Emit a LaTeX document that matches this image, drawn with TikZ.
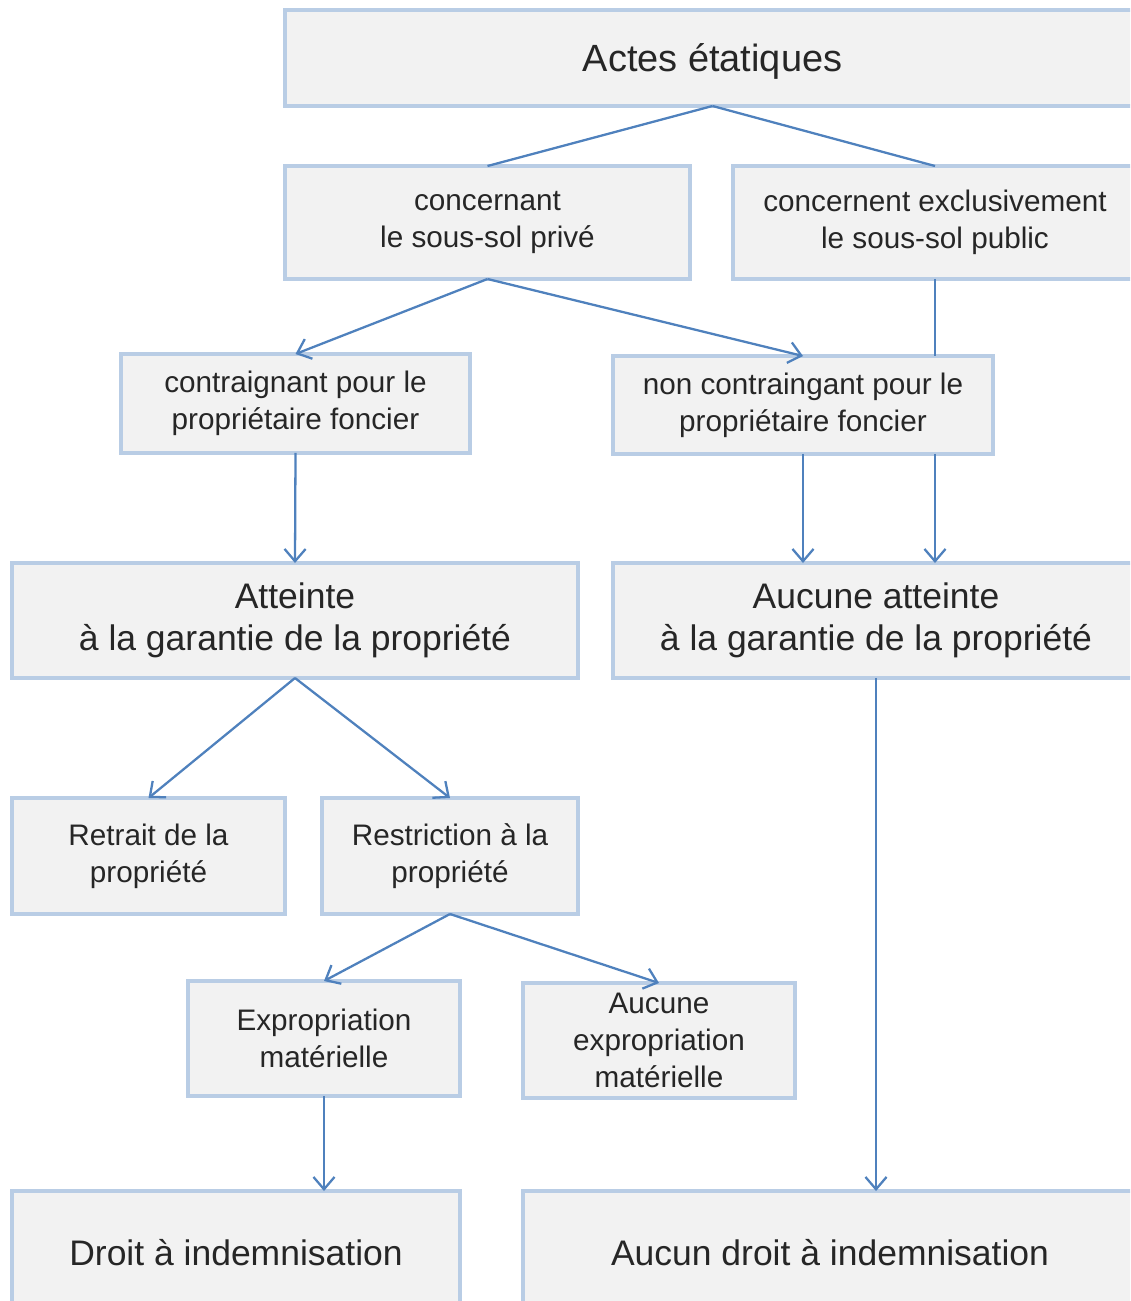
\documentclass[tikz,border=0pt]{standalone}
\usepackage{fontspec}
\setmainfont{Liberation Sans}
\usetikzlibrary{arrows.meta,positioning}

\definecolor{boxfill}{HTML}{F2F2F2}
\definecolor{boxline}{HTML}{B9CDE5}
\definecolor{link}{HTML}{4F81BD}
\definecolor{ink}{HTML}{262626}

\begin{document}
\begin{tikzpicture}[
	x = 0.02cm, y = -0.02cm, % one unit = one pixel of the layout
	> = {Straight Barb[length=7pt, width=12pt]}, % open arrow head
	line width = 1.3pt,
	draw = link,
	S/.style={rectangle, draw=boxline, fill=boxfill, line width=2.3pt, align=center, text=ink, inner sep=0pt, outer sep=0pt, font=\fontsize{16.9}{21}\selectfont, execute at begin node={\rule{0pt}{0.92em}}},  % small text box
	L/.style={S, font=\fontsize{20.2}{24}\selectfont},                                                                                                  % large text box
	wh/.style 2 args={minimum width=#1cm, minimum height=#2cm},
	]

	\clip (0,0) rectangle (1130,1301);

	% Boxes, top part
	\node[L, wh={17.1}{1.92}, font=\fontsize{21.6}{24}\selectfont] (T) at (712.5,58) {Actes étatiques};
	\node[S, wh={8.1}{2.26}] (P) at (487.5,222.5) {concernant\\le sous-sol privé};
	\node[S, wh={8.08}{2.26}] (X) at (935,222.5) {concernent exclusivement\\le sous-sol public};
	\node[S, wh={6.98}{1.98}] (C) at (295.5,403.5) {contraignant pour le\\propriétaire foncier};
	\node[S, wh={7.6}{1.96}] (N) at (803,405) {non contraingant pour le\\propriétaire foncier};
	% Paths, top part
	\draw (T.south) -- (P.north);
	\draw (T.south) -- (X.north);
	\draw[->] (P.south) -- (C.north);
	\draw[->] (P.south) -- (N.north);
	\draw (X.south) -- (X.south |- N.north);

	% Boxes, middle part
	\node[L, wh={11.32}{2.3}] (A) at (295,620.5) {Atteinte\\à la garantie de la propriété};
	\node[L, wh={10.52}{2.3}] (A2) at (876,620.5) {Aucune atteinte\\à la garantie de la propriété};
	\node[S, wh={5.46}{2.32}] (R) at (148.5,856) {Retrait de la\\propriété};
	\node[S, wh={5.12}{2.32}] (Rs) at (450,856) {Restriction à la\\propriété};
	% Paths, middle part
	\draw[->] (C.south) -- (A.north);
	\draw[->] (N.south) -- (N.south |- A2.north);
	\draw[->] (X.south |- N.south) -- (X.south |- A2.north);
	\draw[->] (A.south) -- (R.north);
	\draw[->] (A.south) -- (Rs.north);

	% Boxes, bottom part
	\node[S, wh={5.44}{2.3}] (E) at (324,1038.5) {Expropriation\\matérielle};
	\node[S, wh={5.44}{2.3}] (E2) at (659,1040.5) {Aucune\\expropriation\\matérielle};
	\node[L, wh={8.96}{2.32}] (D) at (236,1249) {Droit à indemnisation};
	\node[L, wh={12.28}{2.32}] (D2) at (830,1249) {Aucun droit à indemnisation};
	% Paths, bottom part
	\draw[->] (Rs.south) -- (E.north);
	\draw[->] (Rs.south) -- (E2.north);
	\draw[->] (E.south) -- (E.south |- D.north);
	\draw[->] (A2.south) -- (A2.south |- D2.north);

\end{tikzpicture}
\end{document}
